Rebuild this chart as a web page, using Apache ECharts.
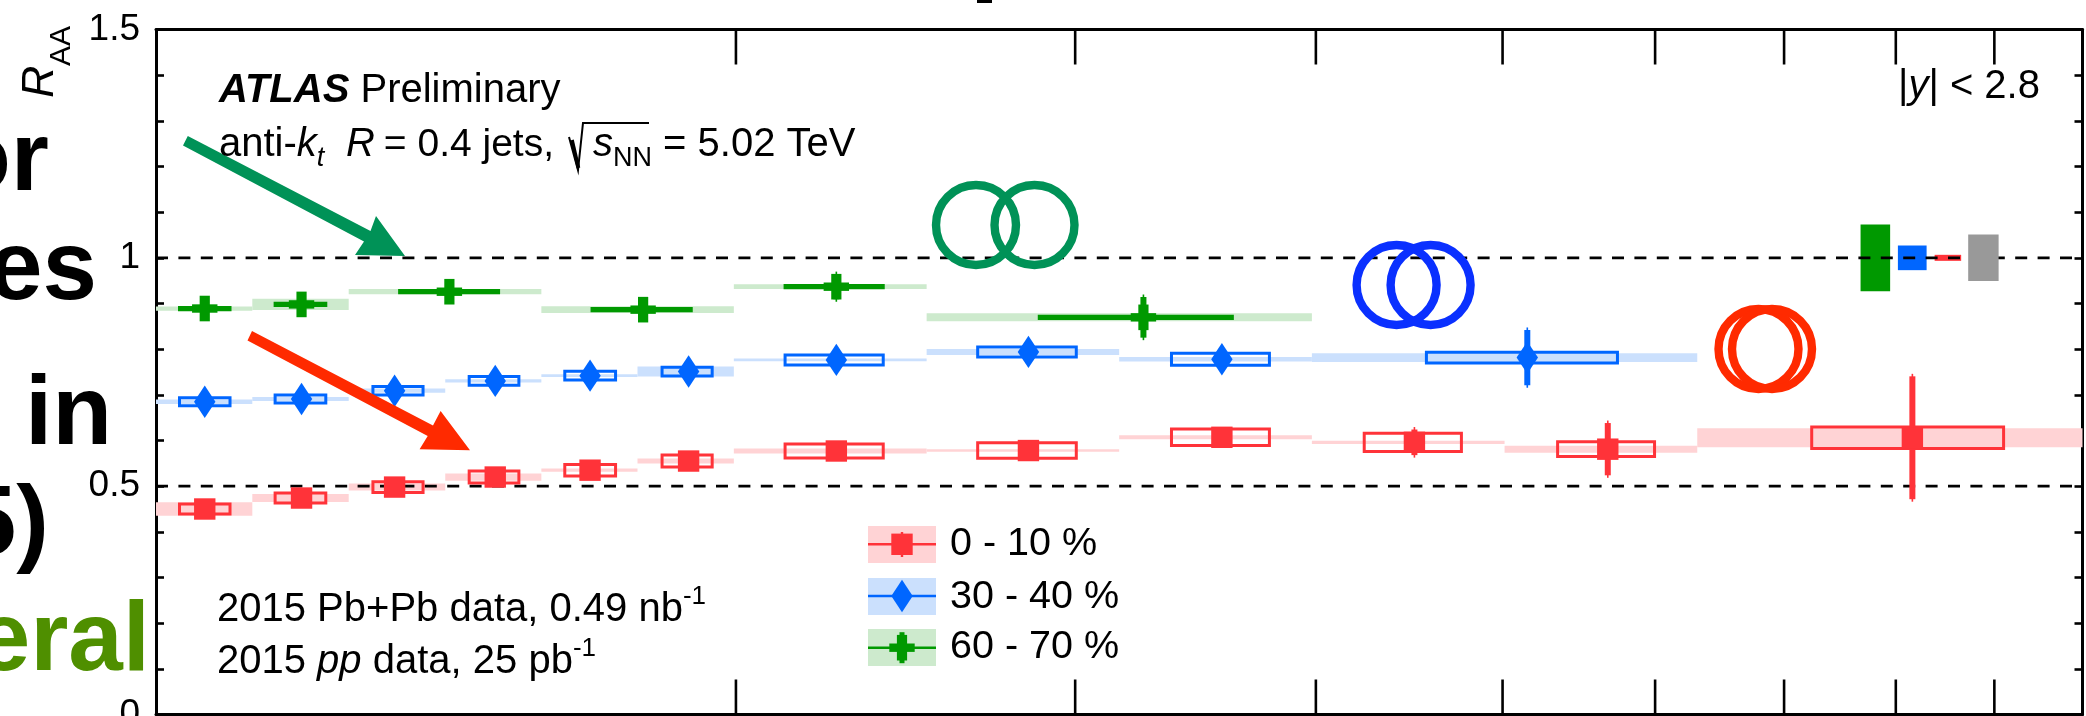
<!DOCTYPE html>
<html><head><meta charset="utf-8">
<style>html,body{margin:0;padding:0;background:#fff;overflow:hidden}#c{width:2086px;height:716px}</style>
<script src="https://cdn.jsdelivr.net/npm/echarts@6/dist/echarts.min.js"></script>
</head><body><div id="c"></div>
<script>
const FONT = '"Liberation Sans", Arial, Helvetica, sans-serif';
const centralityLabels = ['0 - 10 %', '30 - 40 %', '60 - 70 %'];
const xTicks = [200, 300, 400, 500, 600, 700, 800, 900];
const yTickLabels = ['0', '0.5', '1', '1.5'];
const unityLines = [1, 0.5];

// 0-10 %
const edgesRed = [100,112.2,125.9,141.3,158.5,177.8,199.5,251.2,316.2,398.1,501.2,631,1000];
const ptRed = [106,119,133,150,168,189,225.5,283.7,357.5,450,567,816];
const valRed = [0.45,0.474,0.498,0.52,0.535,0.555,0.577,0.578,0.607,0.596,0.581,0.606];
const bandRed = [0.0146,0.0087,0.0077,0.008,0.0035,0.0055,0.0055,0.0027,0.0044,0.0036,0.0077,0.0208];
const boxHalfRed = [0.011,0.011,0.0117,0.013,0.0127,0.013,0.0153,0.0168,0.0182,0.02,0.016,0.0237];
const boxLoRed = [102.85,115.3,129.6,145.4,163,183.1,212.1,267,336.6,423.8,534,723.5];
const boxHiRed = [109.25,122.5,137.6,154.3,173.2,194.4,238.5,300.4,378.4,476,599.6,910];
const statRed = [0.003,0.003,0.003,0.003,0.004,0.005,0.008,0.01,0.015,0.0335,0.0627,0.14];

// 30-40 %
const edgesBlue = [100,112.2,125.9,141.3,158.5,177.8,199.5,251.2,316.2,398.1,631];
const ptBlue = [106,119,133,150,168,189,225.5,283.7,357.5,515];
const valBlue = [0.685,0.691,0.709,0.7305,0.742,0.751,0.7765,0.794,0.778,0.7815];
const bandBlue = [0.005,0.0044,0.0047,0.0036,0.003,0.011,0.003,0.0066,0.005,0.0098];
const boxHalfBlue = [0.0087,0.0087,0.0095,0.0095,0.0095,0.0095,0.011,0.011,0.013,0.0117];
const boxLoBlue = [102.85,115.3,129.6,145.4,163,183.1,212.1,267,336.6,456.5];
const boxHiBlue = [109.25,122.5,137.6,154.3,173.2,194.4,238.5,300.4,378.4,573.6];
const statBlue = [0.003,0.003,0.003,0.003,0.004,0.005,0.008,0.012,0.018,0.066];

// 60-70 %
const edgesGreen = [100,112.2,125.9,158.5,199.5,251.2,398.1];
const ptGreen = [106,119,142,179,225.5,325.5];
const valGreen = [0.889,0.898,0.9258,0.8865,0.9368,0.8697];
const bandGreen = [0.0047,0.0124,0.0058,0.0073,0.0051,0.0087];
const boxHalfGreen = [0.0025,0.0025,0.0025,0.0025,0.0025,0.0025];
const boxLoGreen = [102.85,115.3,133.8,168.4,212.1,287.4];
const boxHiGreen = [109.25,122.5,150.6,189.6,238.5,362];
const statGreen = [0.01,0.012,0.012,0.015,0.033,0.05];

// global uncertainty boxes near unity
const globalLo = [767,802,838,872.3];
const globalHi = [794.6,830,865,904.6];
const globalHalf = [0.073,0.027,0.0066,0.051];
const globalColors = ['#009900','#0066ff','#ff3339','#999999'];

const RED='#ff3339', BLUE='#0066ff', GREEN='#009900';
const RED_L='#ffd3d5', BLUE_L='#cbe0fd', GREEN_L='#cdeacd';

function bandSeries(edges, val, band, color, name){
  return {type:'custom', name, z:2, silent:true, encode:{x:[0,1],y:2},
    data: val.map((v,i)=>[edges[i],edges[i+1],v,band[i]]),
    renderItem(p,api){
      const a=api.coord([api.value(0),api.value(2)+api.value(3)]);
      const b=api.coord([api.value(1),api.value(2)-api.value(3)]);
      return {type:'rect',shape:{x:a[0],y:a[1],width:b[0]-a[0],height:b[1]-a[1]},style:{fill:color}};
    }};
}
function boxSeries(lo,hi,val,half,color,name){
  return {type:'custom', name, z:4, silent:true, encode:{x:[0,1],y:2},
    data: val.map((v,i)=>[lo[i],hi[i],v,half[i]]),
    renderItem(p,api){
      const a=api.coord([api.value(0),api.value(2)+api.value(3)]);
      const b=api.coord([api.value(1),api.value(2)-api.value(3)]);
      return {type:'rect',shape:{x:a[0],y:a[1],width:b[0]-a[0],height:b[1]-a[1]},style:{fill:'none',stroke:color,lineWidth:3}};
    }};
}
function markerShapes(kind,c,color){
  const x=c[0],y=c[1],s={fill:color};
  if(kind==='square') return [{type:'rect',shape:{x:x-10.7,y:y-10.7,width:21.4,height:21.4},style:s}];
  if(kind==='diamond') return [{type:'polygon',shape:{points:[[x,y-16.2],[x+10.7,y],[x,y+16.2],[x-10.7,y]]},style:s}];
  return [{type:'rect',shape:{x:x-12.7,y:y-4.2,width:25.4,height:8.4},style:s},
          {type:'rect',shape:{x:x-5.1,y:y-12.8,width:10.2,height:25.6},style:s}];
}
function markerSeries(pt,val,stat,color,kind,name){
  return {type:'custom', name, z:5, silent:true, encode:{x:0,y:1},
    data: val.map((v,i)=>[pt[i],v,stat[i]]),
    renderItem(p,api){
      const c=api.coord([api.value(0),api.value(1)]);
      const t=api.coord([api.value(0),api.value(1)+api.value(2)]);
      const b=api.coord([api.value(0),api.value(1)-api.value(2)]);
      const ch=[
        {type:'rect',shape:{x:c[0]-0.8,y:t[1],width:1.6,height:b[1]-t[1]},style:{fill:color}},
        {type:'rect',shape:{x:c[0]-3,y:t[1]+2.5,width:6,height:Math.max(0,b[1]-t[1]-5)},style:{fill:color}}
      ].concat(markerShapes(kind,c,color));
      return {type:'group',children:ch};
    }};
}
const series = [
  bandSeries(edgesRed,valRed,bandRed,RED_L,centralityLabels[0]+' sys'),
  bandSeries(edgesBlue,valBlue,bandBlue,BLUE_L,centralityLabels[1]+' sys'),
  bandSeries(edgesGreen,valGreen,bandGreen,GREEN_L,centralityLabels[2]+' sys'),
  {type:'custom',name:'global',z:2,silent:true,encode:{x:[0,1],y:2},
   data:globalLo.map((l,i)=>[l,globalHi[i],1,globalHalf[i]]).slice(0,3),
   renderItem(p,api){
     const a=api.coord([api.value(0),api.value(2)+api.value(3)]);
     const b=api.coord([api.value(1),api.value(2)-api.value(3)]);
     return {type:'rect',shape:{x:a[0],y:a[1],width:b[0]-a[0],height:b[1]-a[1]},style:{fill:globalColors[p.dataIndex]}};
   }},
  ...unityLines.map(v=>({type:'line',name:'R='+v,z:3,silent:true,symbol:'none',animation:false,
    data:[[100,v],[1000,v]],lineStyle:{color:'#000',width:2.8,type:[12,10.4]}})),
  {type:'custom',name:'global pp',z:5,silent:true,encode:{x:[0,1],y:2},
   data:[[globalLo[3],globalHi[3],1,globalHalf[3]]],
   renderItem(p,api){
     const a=api.coord([api.value(0),api.value(2)+api.value(3)]);
     const b=api.coord([api.value(1),api.value(2)-api.value(3)]);
     return {type:'rect',shape:{x:a[0],y:a[1],width:b[0]-a[0],height:b[1]-a[1]},style:{fill:globalColors[3]}};
   }},
  boxSeries(boxLoRed,boxHiRed,valRed,boxHalfRed,RED,centralityLabels[0]+' box'),
  boxSeries(boxLoBlue,boxHiBlue,valBlue,boxHalfBlue,BLUE,centralityLabels[1]+' box'),
  boxSeries(boxLoGreen,boxHiGreen,valGreen,boxHalfGreen,GREEN,centralityLabels[2]+' box'),
  markerSeries(ptRed,valRed,statRed,RED,'square',centralityLabels[0]),
  markerSeries(ptBlue,valBlue,statBlue,BLUE,'diamond',centralityLabels[1]),
  markerSeries(ptGreen,valGreen,statGreen,GREEN,'plus',centralityLabels[2]),
  {type:'custom',name:'x ticks',z:6,silent:true,encode:{x:0},
   data:xTicks.map(v=>[v]),
   renderItem(p,api){
     const xp=api.coord([api.value(0),0])[0];
     const top=p.coordSys.y, bot=p.coordSys.y+p.coordSys.height;
     const st={stroke:'#000',lineWidth:2.6};
     return {type:'group',children:[
       {type:'line',shape:{x1:xp,y1:top,x2:xp,y2:top+35},style:st},
       {type:'line',shape:{x1:xp,y1:bot,x2:xp,y2:bot-35},style:st}]};
   }}
];

/* annotation helpers */
const mctx=document.createElement('canvas').getContext('2d');
function fontStr(size,o){return (o.italic?'italic ':'')+(o.bold?'bold ':'')+size+'px '+FONT;}
function txt(text,x,base,size,o){
  o=o||{};
  return {type:'text',z:o.z||100,x:x,y:base-0.27*size,silent:true,
    style:{text,x:0,y:0,font:fontStr(size,o),fill:o.fill||'#000',align:o.align||'left',verticalAlign:'middle'}};
}
function runs(x,base,list){
  const out=[];
  list.forEach(r=>{
    const size=r.size||40;
    if(r.x!==undefined) x=r.x;
    out.push(txt(r.t,x,base+(r.dy||0),size,r));
    mctx.font=fontStr(size,r);
    x+=mctx.measureText(r.t).width;
  });
  return out;
}
function ring(cx,cy,color){
  return {type:'circle',z:90,silent:true,shape:{cx,cy,r:40},style:{fill:'none',stroke:color,lineWidth:8.4}};
}
function poly(points,fill,z){return {type:'polygon',z:z||95,silent:true,shape:{points},style:{fill}};}
function rect(x,y,w,h,fill,z){return {type:'rect',z:z||100,silent:true,shape:{x,y,width:w,height:h},style:{fill}};}

const ARROW_G='#009257', ARROW_R='#ff2a00', RING_B='#0a30ff';
const graphics=[
  // slide text showing behind the figure
  txt('or',49,189,98,{bold:true,align:'right',z:1}),
  txt('es',97,298,98,{bold:true,align:'right',z:1}),
  txt('y in',112,443,98,{bold:true,align:'right',z:1}),
  txt('5)',49,553,98,{bold:true,align:'right',z:1}),
  txt('eral',150,669,98,{bold:true,align:'right',z:1,fill:'#4f8f00'}),
  rect(977,0,15,3,'#000',1),
  // y axis title
  {type:'text',z:100,silent:true,x:63,y:98,rotation:Math.PI/2,
   style:{text:'R',x:0,y:0,font:fontStr(45,{italic:true}),fill:'#000',align:'left',verticalAlign:'bottom'}},
  {type:'text',z:100,silent:true,x:77,y:66,rotation:Math.PI/2,
   style:{text:'AA',x:0,y:0,font:fontStr(30,{}),fill:'#000',align:'left',verticalAlign:'bottom'}},
  // ATLAS labels
  ...runs(219,101.7,[{t:'ATLAS',bold:true,italic:true},{t:' Preliminary'}]),
  ...runs(219,156,[{t:'anti-'},{t:'k',italic:true},{t:'t',italic:true,size:27,dy:10},
     {t:'R',italic:true,x:346},{t:' = 0.4 jets,',x:373,size:39},
     {t:'s',italic:true,x:593},{t:'NN',size:27,dy:10},{t:' = 5.02 TeV',x:652}]),
  {type:'polyline',z:100,silent:true,shape:{points:[[569,137],[578,170],[583,123],[649,123]]},style:{fill:'none',stroke:'#000',lineWidth:2}},
  {type:'line',z:100,silent:true,shape:{x1:572,y1:140,x2:578.5,y2:168},style:{stroke:'#000',lineWidth:3.6}},
  ...runs(1898,98,[{t:'|'},{t:'y',italic:true},{t:'| < 2.8'}]),
  ...runs(217,621,[{t:'2015 Pb+Pb data, 0.49 nb'},{t:'-1',size:26,dy:-17}]),
  ...runs(217,672.7,[{t:'2015 '},{t:'pp',italic:true},{t:' data, 25 pb'},{t:'-1',size:26,dy:-17}]),
  // legend
  rect(868,526,68,37,RED_L,50), rect(868,543,68,2.6,RED,51), rect(900.8,532,2.4,25,RED,51),
  ...markerShapes('square',[902,544.3],RED).map(s=>({...s,z:52,silent:true})),
  txt(centralityLabels[0],950,555,39.5),
  rect(868,578,68,37,BLUE_L,50), rect(868,594.7,68,2.6,BLUE,51),
  ...markerShapes('diamond',[902,596],BLUE).map(s=>({...s,z:52,silent:true})),
  txt(centralityLabels[1],950,607.7,39.5),
  rect(868,629,68,37,GREEN_L,50), rect(868,646.4,68,2.6,GREEN,51), rect(899.5,632.2,5,31,GREEN,51),
  ...markerShapes('plus',[902,647.7],GREEN).map(s=>({...s,z:52,silent:true})),
  txt(centralityLabels[2],950,657.7,39.5),
  // overlap rings
  ring(976,225,ARROW_G), ring(1034.5,225,ARROW_G),
  ring(1396.6,285,RING_B), ring(1430.6,285,RING_B),
  ring(1758.5,349,ARROW_R), ring(1772,349,ARROW_R),
  // arrows
  poly([[187.8,136],[370.5,231],[376,216],[405,256],[355,255],[364,241.5],[183,145.5]],ARROW_G),
  poly([[252,331],[433,425.5],[440.6,411],[470,450.3],[419.6,449.3],[427.7,436],[247.5,340.5]],ARROW_R)
];

const yLabelFmt = v => { const s=String(+v.toFixed(1)); return yTickLabels.includes(s)?s:''; };
const chart=echarts.init(document.getElementById('c'),null,{renderer:'canvas'});
chart.setOption({
  animation:false,
  backgroundColor:'#fff',
  grid:{left:156,right:3.5,top:29.5,bottom:1.5,containLabel:false,outerBoundsMode:'none'},
  xAxis:[
    {type:'log',min:100,max:1000,position:'bottom',axisLine:{show:true,onZero:false,lineStyle:{color:'#000',width:3}},axisTick:{show:false},axisLabel:{show:false},splitLine:{show:false}},
    {type:'log',min:100,max:1000,position:'top',axisLine:{show:true,onZero:false,lineStyle:{color:'#000',width:3}},axisTick:{show:false},axisLabel:{show:false},splitLine:{show:false}}
  ],
  yAxis:[
    {type:'value',min:0,max:1.5,interval:0.1,position:'left',
     axisLine:{show:true,onZero:false,lineStyle:{color:'#000',width:3}},
     axisTick:{show:true,inside:true,length:8,lineStyle:{color:'#000',width:2.6}},
     axisLabel:{show:true,margin:16,color:'#000',fontSize:37,fontFamily:FONT,padding:[4,0,0,0],formatter:yLabelFmt,showMinLabel:true,showMaxLabel:true,hideOverlap:false},
     splitLine:{show:false}},
    {type:'value',min:0,max:1.5,interval:0.1,position:'right',
     axisLine:{show:true,onZero:false,lineStyle:{color:'#000',width:3}},
     axisTick:{show:true,inside:true,length:8,lineStyle:{color:'#000',width:2.6}},
     axisLabel:{show:false},splitLine:{show:false}}
  ],
  series:series,
  graphic:{elements:graphics}
});
</script></body></html>
